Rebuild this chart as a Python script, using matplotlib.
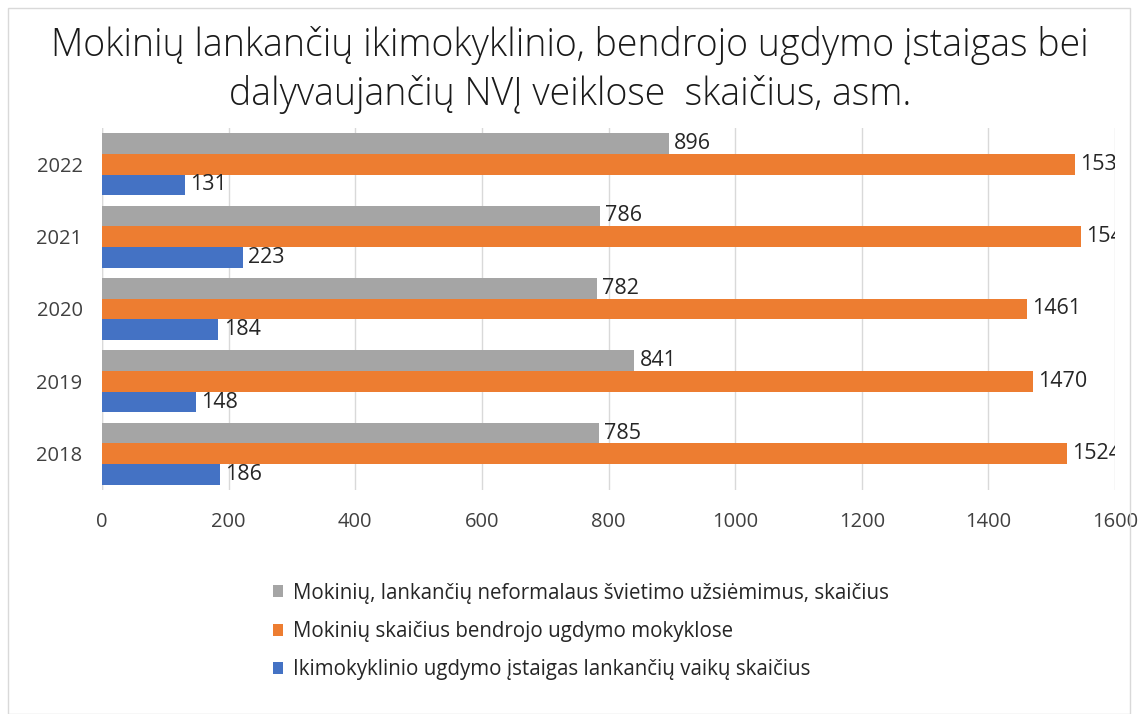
import matplotlib
matplotlib.use("Agg")
import matplotlib.pyplot as plt
import numpy as np
from matplotlib.patches import Rectangle

plt.rcParams['font.family'] = ['Open Sans', 'DejaVu Sans']

years = ["2018", "2019", "2020", "2021", "2022"]
neformalus = [785, 841, 782, 786, 896]
bendrojo = [1524, 1470, 1461, 1546, 1537]
ikimokyklinio = [186, 148, 184, 223, 131]
series_names = [
    "Mokinių, lankančių neformalaus švietimo užsiėmimus, skaičius",
    "Mokinių skaičius bendrojo ugdymo mokyklose",
    "Ikimokyklinio ugdymo įstaigas lankančių vaikų skaičius",
]
colors = ["#A5A5A5", "#ED7D31", "#4472C4"]
title = "Mokinių lankančių ikimokyklinio, bendrojo ugdymo įstaigas bei\ndalyvaujančių NVĮ veiklose  skaičius, asm."

W, H = 1140, 714
fig = plt.figure(figsize=(W/100, H/100), dpi=100)
fig.patches.append(Rectangle((8/W, 0), (1130-8)/W, 1-8/H, transform=fig.transFigure,
                             fill=False, edgecolor="#D9D9D9", lw=1))

ax = fig.add_axes([102/W, 1-490/H, (1115-102)/W, (490-128)/H])
y = np.arange(len(years))
bh = 0.285
series = [neformalus, bendrojo, ikimokyklinio]
offsets = [bh, 0, -bh]
for vals, col, off, name in zip(series, colors, offsets, series_names):
    bars = ax.barh(y + off, vals, height=bh, color=col, label=name, zorder=3)
    for b, v in zip(bars, vals):
        ax.text(v + 8, b.get_y() + b.get_height()/2, str(v), va="center", ha="left",
                fontsize=15.5, color="#262626", clip_on=True, zorder=4)

ax.set_xlim(0, 1600)
ax.set_ylim(-0.5, 4.5)
ax.set_xticks(range(0, 1601, 200))
ax.set_yticks(y)
ax.set_yticklabels(years)
ax.tick_params(axis="both", length=0, labelsize=14.5, colors="#404040")
ax.tick_params(axis="x", pad=16)
ax.tick_params(axis="y", pad=14)
ax.grid(axis="x", color="#D9D9D9", lw=1, zorder=0)
for s in ax.spines.values():
    s.set_visible(False)
ax.axvline(0, color="#D9D9D9", lw=1, zorder=1)

fig.text(0.5, 1-70/H, title, ha="center", va="center", fontsize=27,
         fontweight="light", color="#1a1a1a", linespacing=1.3)

handles, labels = ax.get_legend_handles_labels()
leg = fig.legend(handles, labels, loc="upper left", bbox_to_anchor=(254/W, 1-564/H),
                 frameon=False, fontsize=14.8, handlelength=0.5, handleheight=0.5,
                 handletextpad=0.5, labelspacing=0.85, labelcolor="#262626")

fig.savefig("out.png", dpi=100)
